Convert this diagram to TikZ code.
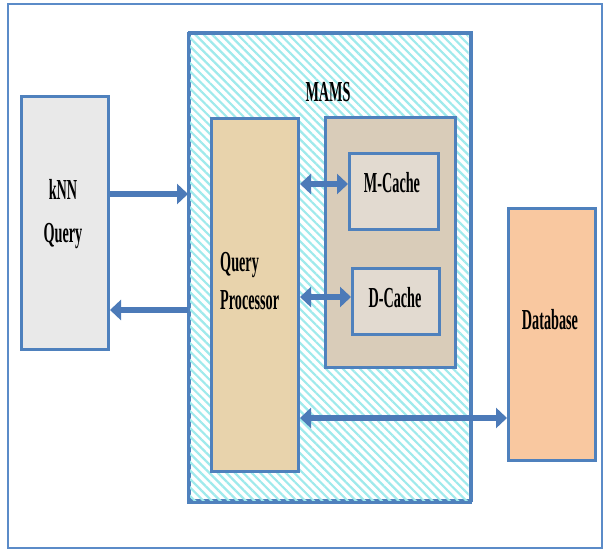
\documentclass[tikz,border=0pt]{standalone}
\usepackage{fontspec}
\newfontfamily\lblfont[FakeStretch=0.49]{Liberation Serif}
\usetikzlibrary{arrows.meta,patterns.meta}
\definecolor{bdr}{HTML}{4F81BD}
\definecolor{frm}{HTML}{5B8BC8}
\definecolor{arrc}{HTML}{4C7AB8}
\definecolor{knnfill}{HTML}{E9E9E9}
\definecolor{qpfill}{HTML}{E8D3AC}
\definecolor{cachebg}{HTML}{D9CCB9}
\definecolor{cachefill}{HTML}{E2DAD0}
\definecolor{dbfill}{HTML}{F9C8A0}
\definecolor{stripe}{HTML}{9FEAEC}
\tikzset{
  box/.style={draw=bdr, line width=3pt, rectangle, inner sep=0pt, anchor=south west},
  lbl/.style={inner sep=0pt, font=\lblfont\bfseries\fontsize{29}{33}\selectfont, text=black},
  arr/.style={draw=arrc, line width=6.5pt, -{Triangle[width=20pt,length=11pt]}},
  darr/.style={draw=arrc, line width=6.5pt, {Triangle[width=20pt,length=11pt]}-{Triangle[width=20pt,length=11pt]}},
}
\begin{document}
\begin{tikzpicture}[x=1pt,y=1pt]
\useasboundingbox (0,0) rectangle (605,552);
\fill[white] (0,0) rectangle (605,552);
% outer frame
\node[draw=frm, line width=2pt, inner sep=0pt, anchor=south west, minimum width=594pt, minimum height=544pt] (frame) at (7,3) {};
% MAMS
\node[box, fill=white, minimum width=282pt, minimum height=468pt] (mams) at (188,50) {};
\fill[pattern={Lines[angle=-45,distance=6pt,line width=2.2pt]}, pattern color=stripe] (189.5,51.5) rectangle (468.5,516.5);
\draw[bdr, line width=3pt] (188,50) rectangle (470,518);
% kNN
\node[box, fill=knnfill, minimum width=87pt, minimum height=253pt] (knn) at (20,201) {};
% Query processor
\node[box, fill=qpfill, minimum width=87pt, minimum height=353pt] (qp) at (210,79) {};
% cache container
\node[box, fill=cachebg, minimum width=130pt, minimum height=250pt] (cache) at (324,183) {};
\node[box, fill=cachefill, minimum width=89pt, minimum height=76pt] (mc) at (348,321) {};
\node[box, fill=cachefill, minimum width=87pt, minimum height=66pt] (dc) at (351,216) {};
% database
\node[box, fill=dbfill, minimum width=87pt, minimum height=252pt] (db) at (507,90) {};
% labels
\node[lbl, anchor=base] (tmams) at (328,450) {MAMS};
\node[lbl, anchor=base] (tknn1) at (63,352) {kNN};
\node[lbl, anchor=base] (tknn2) at (63,309) {Query};
\node[lbl, anchor=base west] (tqp1) at (220,280) {Query};
\node[lbl, anchor=base west] (tqp2) at (220,242) {Processor};
\node[lbl, anchor=base] (tmc) at (392,359) {M-Cache};
\node[lbl, anchor=base] (tdc) at (395,244) {D-Cache};
\node[lbl, anchor=base] (tdb) at (550,222) {Database};
% arrows
\draw[arr] (knn.east |- 0,358) -- (mams.west |- 0,358);
\draw[arr] (mams.west |- 0,242) -- (knn.east |- 0,242);
\draw[darr] (qp.east |- 0,368) -- (mc.west |- 0,368);
\draw[darr] (qp.east |- 0,255) -- (dc.west |- 0,255);
\draw[darr] (qp.east |- 0,134) -- (db.west |- 0,134);
\end{tikzpicture}
\end{document}
